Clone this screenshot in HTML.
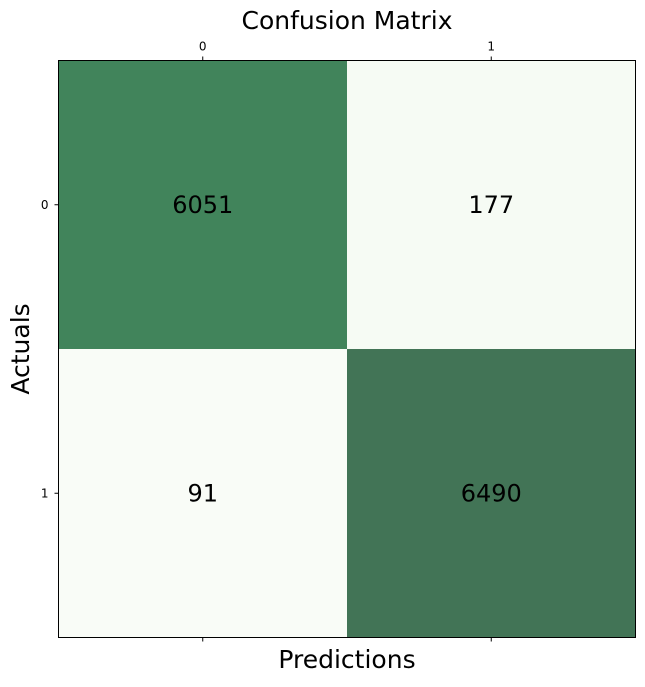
<!DOCTYPE html>
<html><head><meta charset="utf-8"><style>
body{margin:0;background:#fff;}
svg text{font-family:"DejaVu Sans","Liberation Sans",sans-serif;}
</style></head><body>
<svg id="chart" width="645" height="682">
<text x="347" y="29" text-anchor="middle" font-size="25">Confusion Matrix</text>
<text x="347" y="668" text-anchor="middle" font-size="25">Predictions</text>
<text transform="translate(29,349) rotate(-90)" text-anchor="middle" font-size="25">Actuals</text>
<g id="cells"></g>
<rect x="58.5" y="60.5" width="577" height="577" fill="none" stroke="#000" stroke-width="1"/>
<g id="ticks"></g>
</svg>
<script>
const categories = ["0","1"];
const matrix = [[6051,177],[91,6490]];
const x0=58.5, y0=60.5, W=577, H=577;
const cw=W/categories.length, ch=H/categories.length;
const xPos=i=>x0+i*cw, yPos=i=>y0+i*ch;
const vals=matrix.flat(), vmin=Math.min(...vals), vmax=Math.max(...vals);
function color(v){
  const t=(v-vmin)/(vmax-vmin);
  const stops=[[0,[249,252,247]],[0.02,[245,251,242]],[0.93,[65,132,91]],[1,[66,116,86]]];
  for(let k=0;k<stops.length-1;k++){
    const [a,ca]=stops[k],[b,cb]=stops[k+1];
    if(t<=b){const u=(t-a)/(b-a);return 'rgb('+ca.map((c,j)=>Math.round(c+(cb[j]-c)*u)).join(',')+')';}
  }
  return 'rgb(66,116,86)';
}
const NS='http://www.w3.org/2000/svg';
const cells=document.getElementById('cells'), ticks=document.getElementById('ticks');
matrix.forEach((row,r)=>row.forEach((v,c)=>{
  const rect=document.createElementNS(NS,'rect');
  rect.setAttribute('x',xPos(c));rect.setAttribute('y',yPos(r));
  rect.setAttribute('width',cw);rect.setAttribute('height',ch);
  rect.setAttribute('fill',color(v));
  
  
  cells.appendChild(rect);
  const t=document.createElementNS(NS,'text');
  t.setAttribute('x',xPos(c)+cw/2);t.setAttribute('y',yPos(r)+ch/2+8);
  t.setAttribute('text-anchor','middle');t.setAttribute('font-size','24');
  t.textContent=v;
  
  
  cells.appendChild(t);
}));
categories.forEach((lab,i)=>{
  const cx=xPos(i)+cw/2, cy=yPos(i)+ch/2;
  const lines=[[cx,y0,cx,y0-4],[cx,y0+H,cx,y0+H+4],[x0,cy,x0-4,cy]];
  lines.forEach(l=>{const ln=document.createElementNS(NS,'line');
    ln.setAttribute('x1',l[0]);ln.setAttribute('y1',l[1]);ln.setAttribute('x2',l[2]);ln.setAttribute('y2',l[3]);
    ln.setAttribute('stroke','#000');
    
    
    ticks.appendChild(ln);});
  const tx=document.createElementNS(NS,'text');
  tx.setAttribute('x',cx);tx.setAttribute('y',y0-10);tx.setAttribute('text-anchor','middle');tx.setAttribute('font-size','12');
  tx.textContent=lab;
  
  
  ticks.appendChild(tx);
  const ty=document.createElementNS(NS,'text');
  ty.setAttribute('x',x0-10);ty.setAttribute('y',cy+4);ty.setAttribute('text-anchor','end');ty.setAttribute('font-size','12');
  ty.textContent=lab;
  
  
  ticks.appendChild(ty);
});
</script>
</body></html>
